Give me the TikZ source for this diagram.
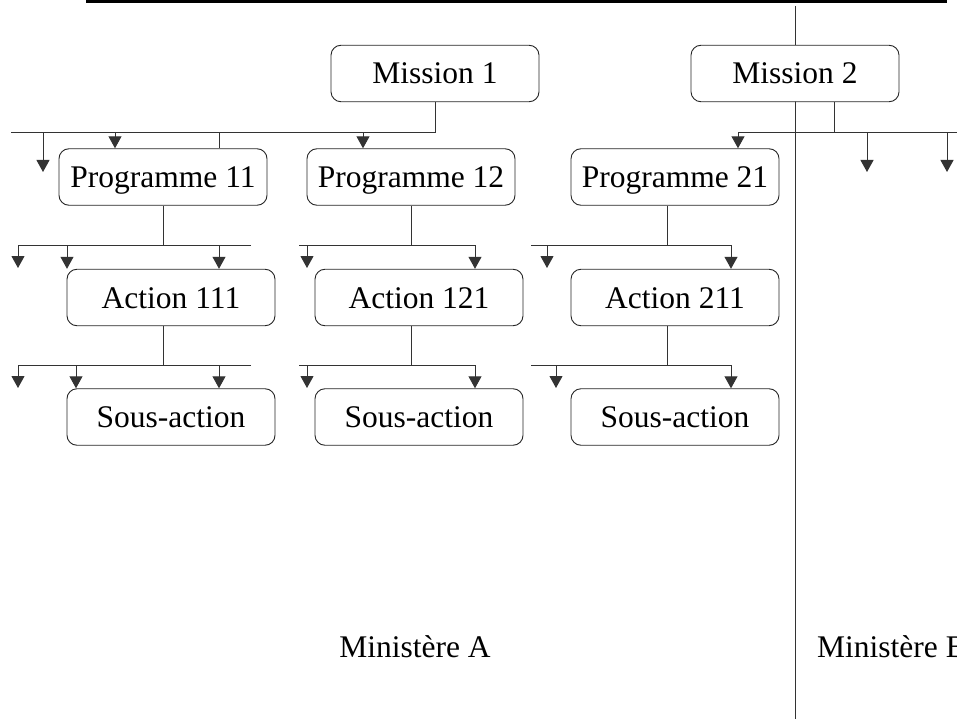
\documentclass[tikz,border=0pt]{standalone}
\usepackage{fontspec}
\setmainfont{Liberation Serif}
\usetikzlibrary{arrows.meta}

\begin{document}
\begin{tikzpicture}[x=1pt,y=-1pt]
\tikzstyle{every node}+=[inner sep=0pt]
\tikzstyle{box}=[draw=black!85, line width=0.9pt, rounded corners=10pt, fill=white, minimum width=208pt, minimum height=56.5pt, text height=25pt, text depth=4pt, font=\fontsize{31.5}{37}\selectfont]
\tikzstyle{wire}=[draw=black!80, line width=1pt]
\tikzstyle{arr}=[wire, -{Triangle[length=12pt,width=13pt]}]
\useasboundingbox (0,0) rectangle (957,719);
\draw [line width=3.5pt] (86,1.5) -- (947,1.5);
\draw [wire] (795,6) -- (795,719);
\node [box] (m1) at (435,73.5) {Mission 1};
\node [box] (m2) at (795,73.5) {Mission 2};
\node [box] (p11) at (163,177) {Programme 11};
\node [box] (p12) at (411,177) {Programme 12};
\node [box] (p21) at (675,177) {Programme 21};
\node [box] (a111) at (171,297.5) {Action 111};
\node [box] (a121) at (419,297.5) {Action 121};
\node [box] (a211) at (675,297.5) {Action 211};
\node [box] (s111) at (171,417) {Sous-action};
\node [box] (s121) at (419,417) {Sous-action};
\node [box] (s211) at (675,417) {Sous-action};
\node [font=\fontsize{31.5}{37}\selectfont] (minA) at (415,647) {Ministère A};
\node [font=\fontsize{31.5}{37}\selectfont, anchor=west] (minB) at (817,647) {Ministère B};
% Mission 1 -> programmes
\coordinate (m1bus) at (11,133);
\coordinate (m1free) at (43,172);
\coordinate (p11in) at ([xshift=-48pt]p11.north);
\coordinate (p11tap) at ([xshift=56pt]p11.north);
\coordinate (p12in) at ([xshift=-48pt]p12.north);
\draw [wire] (m1.south) |- (m1bus);
\draw [arr] (m1free |- m1bus) -- (m1free);
\draw [arr] (p11in |- m1bus) -- (p11in);
\draw [wire] (p11tap |- m1bus) -- (p11tap);
\draw [arr] (p12in |- m1bus) -- (p12in);
% Mission 2 -> programmes
\coordinate (m2out) at ([xshift=39pt]m2.south);
\coordinate (m2bus) at (957,133);
\coordinate (p21in) at ([xshift=63pt]p21.north);
\coordinate (m2freeA) at (867,172);
\coordinate (m2freeB) at (947,172);
\draw [wire] (m2out) |- (m2bus);
\draw [arr] (m2out |- m2bus) -| (p21in);
\draw [arr] (m2freeA |- m2bus) -- (m2freeA);
\draw [arr] (m2freeB |- m2bus) -- (m2freeB);
% programmes -> actions
\coordinate (p11busW) at (18,245);
\coordinate (p11busE) at (251,245);
\coordinate (p11free) at (18,268);
\coordinate (a111inA) at ([xshift=-104pt]a111.north);
\coordinate (a111inB) at ([xshift=48pt]a111.north);
\draw [wire] (p11.south) -- (p11.south |- p11busW);
\draw [arr] (p11busE) -- (p11busW) -- (p11free);
\draw [arr] (a111inA |- p11busW) -- (a111inA);
\draw [arr] (a111inB |- p11busW) -- (a111inB);
\coordinate (p12busW) at (299,245);
\coordinate (p12free) at (307,268);
\coordinate (a121in) at ([xshift=56pt]a121.north);
\draw [wire] (p12.south) -- (p12.south |- p12busW);
\draw [wire] (p12busW) -- (a121in |- p12busW);
\draw [arr] (p12free |- p12busW) -- (p12free);
\draw [arr] (a121in |- p12busW) -- (a121in);
\coordinate (p21out) at ([xshift=-8pt]p21.south);
\coordinate (p21busW) at (531,245);
\coordinate (p21free) at (547,268);
\coordinate (a211in) at ([xshift=56pt]a211.north);
\draw [wire] (p21out) -- (p21out |- p21busW);
\draw [wire] (p21busW) -- (a211in |- p21busW);
\draw [arr] (p21free |- p21busW) -- (p21free);
\draw [arr] (a211in |- p21busW) -- (a211in);
% actions -> sous-actions
\coordinate (a111out) at ([xshift=-8pt]a111.south);
\coordinate (a111busW) at (18,365);
\coordinate (a111busE) at (251,365);
\coordinate (a111free) at (18,388);
\coordinate (s111inA) at ([xshift=-95pt]s111.north);
\coordinate (s111inB) at ([xshift=48pt]s111.north);
\draw [wire] (a111out) -- (a111out |- a111busW);
\draw [arr] (a111busE) -- (a111busW) -- (a111free);
\draw [arr] (s111inA |- a111busW) -- (s111inA);
\draw [arr] (s111inB |- a111busW) -- (s111inB);
\coordinate (a121out) at ([xshift=-8pt]a121.south);
\coordinate (a121busW) at (299,365);
\coordinate (a121free) at (307,388);
\coordinate (s121in) at ([xshift=56pt]s121.north);
\draw [wire] (a121out) -- (a121out |- a121busW);
\draw [wire] (a121busW) -- (s121in |- a121busW);
\draw [arr] (a121free |- a121busW) -- (a121free);
\draw [arr] (s121in |- a121busW) -- (s121in);
\coordinate (a211out) at ([xshift=-8pt]a211.south);
\coordinate (a211busW) at (531,365);
\coordinate (a211free) at (556,388);
\coordinate (s211in) at ([xshift=56pt]s211.north);
\draw [wire] (a211out) -- (a211out |- a211busW);
\draw [wire] (a211busW) -- (s211in |- a211busW);
\draw [arr] (a211free |- a211busW) -- (a211free);
\draw [arr] (s211in |- a211busW) -- (s211in);
\end{tikzpicture}
\end{document}
